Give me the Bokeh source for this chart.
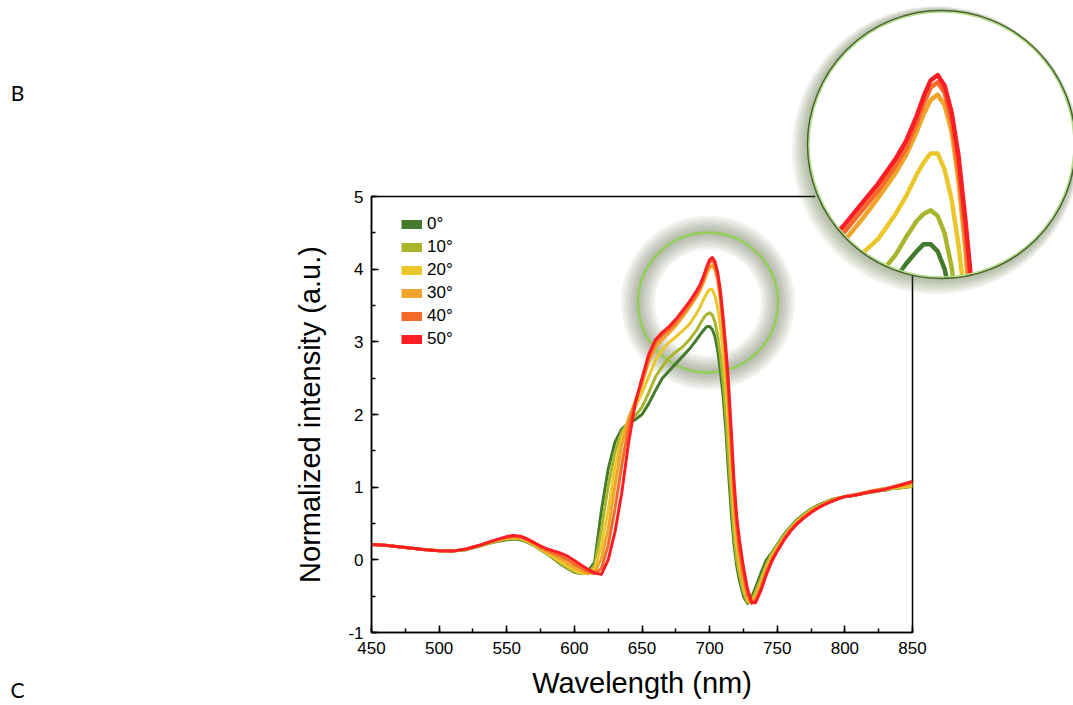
import numpy as np
from bokeh.plotting import figure
from bokeh.layouts import column
from bokeh.models import (Range1d, Label, Legend, LegendItem, SingleIntervalTicker)
from bokeh.embed import file_html
from bokeh.resources import INLINE

# ---------------- data ----------------
wavelength = [450, 460, 470, 480, 490, 500, 510, 520, 530, 540, 550,
              555, 560, 565, 570, 575, 580, 585, 590, 595, 600, 605, 610, 615, 620,
              625, 630, 635, 640, 645, 650, 655, 660, 665, 670, 675, 680, 685, 690,
              693, 696, 698, 700, 702, 704, 706, 708, 710, 712, 714, 716, 718, 720, 722,
              725, 728, 731, 734, 738, 742, 746, 750,
              755, 760, 765, 770, 775, 780, 785, 790, 795, 800, 805, 810, 815, 820,
              825, 830, 835, 840, 845, 850]

angle_labels = ["0°", "10°", "20°", "30°", "40°", "50°"]
colors = ["#437a2b", "#a9b62d", "#ebc72c", "#efa42b", "#f46a2b", "#fd1d25"]

int_0 = [0.21, 0.20, 0.18, 0.16, 0.14, 0.125, 0.12, 0.14, 0.19, 0.24, 0.275,
         0.285, 0.275, 0.245, 0.20, 0.14, 0.08, 0.01, -0.06, -0.12, -0.17, -0.19, -0.16, -0.03, 0.68,
         1.25, 1.62, 1.80, 1.88, 1.93, 2.00, 2.15, 2.33, 2.50, 2.60, 2.70, 2.80, 2.90, 3.02,
         3.10, 3.17, 3.21, 3.21, 3.17, 3.07, 2.88, 2.60, 2.25, 1.78, 1.20, 0.65, 0.22, -0.08, -0.28,
         -0.50, -0.60, -0.52, -0.38, -0.18, 0.00, 0.10, 0.21,
         0.35, 0.46, 0.56, 0.63, 0.70, 0.75, 0.79, 0.83, 0.85, 0.87, 0.88, 0.90, 0.92, 0.93,
         0.95, 0.96, 0.98, 0.99, 1.00, 1.02]

int_10 = [0.21, 0.20, 0.18, 0.16, 0.14, 0.125, 0.12, 0.14, 0.19, 0.245, 0.285,
          0.295, 0.285, 0.25, 0.20, 0.14, 0.08, 0.02, -0.05, -0.11, -0.16, -0.19, -0.18, -0.08, 0.42,
          1.02, 1.48, 1.76, 1.89, 1.98, 2.10, 2.30, 2.52, 2.66, 2.78, 2.86, 2.93, 3.03, 3.15,
          3.25, 3.34, 3.38, 3.40, 3.37, 3.27, 3.08, 2.80, 2.45, 1.98, 1.40, 0.85, 0.35, 0.00, -0.20,
          -0.45, -0.59, -0.56, -0.44, -0.25, -0.06, 0.09, 0.20,
          0.34, 0.45, 0.55, 0.62, 0.69, 0.74, 0.78, 0.82, 0.85, 0.87, 0.88, 0.90, 0.92, 0.93,
          0.95, 0.96, 0.98, 0.99, 1.00, 1.01]

int_20 = [0.21, 0.20, 0.18, 0.16, 0.14, 0.125, 0.12, 0.145, 0.195, 0.25, 0.295,
          0.305, 0.295, 0.26, 0.21, 0.15, 0.09, 0.03, -0.03, -0.09, -0.14, -0.18, -0.19, -0.12, 0.20,
          0.68, 1.28, 1.68, 1.92, 2.10, 2.30, 2.52, 2.75, 2.89, 2.99, 3.07, 3.15, 3.24, 3.38,
          3.48, 3.60, 3.67, 3.72, 3.72, 3.63, 3.46, 3.20, 2.85, 2.38, 1.82, 1.20, 0.60, 0.20, -0.08,
          -0.37, -0.55, -0.59, -0.49, -0.31, -0.11, 0.05, 0.17,
          0.31, 0.43, 0.53, 0.61, 0.68, 0.73, 0.78, 0.82, 0.85, 0.87, 0.89, 0.90, 0.92, 0.94,
          0.96, 0.97, 0.99, 1.00, 1.01, 1.02]

int_30 = [0.21, 0.20, 0.18, 0.16, 0.14, 0.125, 0.12, 0.145, 0.20, 0.255, 0.305,
          0.315, 0.305, 0.27, 0.22, 0.16, 0.11, 0.06, 0.01, -0.05, -0.10, -0.15, -0.19, -0.17, 0.02,
          0.42, 1.02, 1.58, 1.95, 2.17, 2.42, 2.72, 2.93, 3.03, 3.12, 3.22, 3.34, 3.47, 3.61,
          3.71, 3.84, 3.94, 4.02, 4.05, 3.99, 3.84, 3.56, 3.16, 2.66, 2.12, 1.46, 0.80, 0.36, 0.03,
          -0.30, -0.52, -0.60, -0.53, -0.35, -0.14, 0.02, 0.15,
          0.30, 0.42, 0.52, 0.60, 0.67, 0.73, 0.77, 0.81, 0.84, 0.87, 0.89, 0.91, 0.93, 0.95,
          0.97, 0.98, 1.00, 1.02, 1.03, 1.05]

int_40 = [0.21, 0.20, 0.18, 0.16, 0.14, 0.125, 0.12, 0.15, 0.20, 0.26, 0.31,
          0.325, 0.315, 0.28, 0.23, 0.18, 0.13, 0.09, 0.05, 0.00, -0.06, -0.11, -0.16, -0.19, -0.12,
          0.20, 0.70, 1.30, 1.82, 2.18, 2.47, 2.78, 2.99, 3.09, 3.17, 3.27, 3.39, 3.51, 3.65,
          3.75, 3.89, 4.00, 4.09, 4.12, 4.06, 3.90, 3.63, 3.25, 2.80, 2.28, 1.62, 0.95, 0.48, 0.14,
          -0.20, -0.47, -0.60, -0.56, -0.39, -0.17, 0.00, 0.13,
          0.29, 0.41, 0.51, 0.59, 0.66, 0.72, 0.77, 0.81, 0.84, 0.87, 0.89, 0.90, 0.92, 0.94,
          0.96, 0.98, 1.00, 1.03, 1.05, 1.07]

int_50 = [0.21, 0.20, 0.18, 0.16, 0.14, 0.125, 0.12, 0.15, 0.20, 0.265, 0.32,
          0.335, 0.325, 0.29, 0.24, 0.19, 0.15, 0.12, 0.09, 0.05, -0.01, -0.07, -0.13, -0.18, -0.20,
          0.00, 0.38, 0.92, 1.60, 2.15, 2.50, 2.83, 3.03, 3.13, 3.21, 3.31, 3.43, 3.55, 3.69,
          3.79, 3.93, 4.04, 4.13, 4.16, 4.10, 3.95, 3.70, 3.33, 2.92, 2.42, 1.78, 1.10, 0.60, 0.28,
          -0.10, -0.40, -0.58, -0.59, -0.42, -0.20, -0.02, 0.12,
          0.27, 0.40, 0.50, 0.58, 0.65, 0.71, 0.76, 0.80, 0.84, 0.87, 0.88, 0.90, 0.92, 0.94,
          0.95, 0.97, 1.00, 1.02, 1.05, 1.08]

series = [int_0, int_10, int_20, int_30, int_40, int_50]

x_label = "Wavelength (nm)"
y_label = "Normalized intensity (a.u.)"
panel_letter = "B"
next_panel_letter = "C"

# ---------------- layout constants (canvas = page pixels) ----------------
W, H = 1073, 705
FONT = "Liberation Sans"
FL, FT, FW, FH = 371, 196, 541, 436   # main frame


def no_align(f):
    try:
        f.frame_align = False
    except Exception:
        pass


# ---------------- main chart ----------------
p = figure(width=W, height=H, x_range=Range1d(450, 850), y_range=Range1d(-1, 5),
           output_backend="svg", toolbar_location=None, sizing_mode="fixed",
           min_border_left=FL, min_border_top=FT,
           min_border_right=W - FL - FW, min_border_bottom=H - FT - FH,
           x_axis_label=x_label, y_axis_label=y_label)
no_align(p)
p.background_fill_color = None
p.border_fill_color = None
p.outline_line_color = "black"
p.outline_line_width = 1.5
p.xgrid.grid_line_color = None
p.ygrid.grid_line_color = None
p.xaxis.ticker = SingleIntervalTicker(interval=50, num_minor_ticks=2)
p.yaxis.ticker = SingleIntervalTicker(interval=1, num_minor_ticks=2)
p.yaxis.major_label_overrides = {-1: "-1"}
for ax in (p.xaxis[0], p.yaxis[0]):
    ax.major_tick_in = 7
    ax.major_tick_out = 0
    ax.minor_tick_in = 4
    ax.minor_tick_out = 0
    ax.axis_line_width = 1.5
    ax.axis_line_color = "black"
    ax.major_tick_line_width = 1.5
    ax.minor_tick_line_width = 1.5
    ax.major_tick_line_color = "black"
    ax.minor_tick_line_color = "black"
    ax.major_label_text_font = FONT
    ax.major_label_text_font_size = "17px"
    ax.major_label_text_color = "black"
    ax.major_label_standoff = 8
    ax.axis_label_text_font = FONT
    ax.axis_label_text_font_size = "29px"
    ax.axis_label_text_font_style = "normal"
    ax.axis_label_text_color = "black"
p.xaxis.major_label_standoff = 9
p.xaxis.axis_label_standoff = 10
p.yaxis.axis_label_standoff = 19

# highlight ring around the peak (decoration)
GLOW_X, GLOW_Y, GLOW_R = 698.8, 3.54, 70
for d in [2, 4.5, 7, 9.5, 12, 14.5, 17]:
    p.annulus(x=[GLOW_X], y=[GLOW_Y], inner_radius=GLOW_R - d, outer_radius=GLOW_R + d,
              inner_radius_units="screen", outer_radius_units="screen",
              fill_color="#56633b", fill_alpha=0.08, line_color=None)
p.scatter(x=[GLOW_X], y=[GLOW_Y], size=2 * GLOW_R, marker="circle",
          fill_color=None, line_color="#92d050", line_width=2.2)

for s, c in zip(series, colors):
    p.line(wavelength, s, line_color=c, line_width=3, line_join="round")

# legend swatches: zero-length butt-capped segments on the data (invisible in the plot)
items = []
for lab, s, c in zip(angle_labels, series, colors):
    r = p.segment(x0=wavelength, y0=s, x1=wavelength, y1=s, line_color=c,
                  line_width=9, line_cap="butt")
    items.append(LegendItem(label=lab, renderers=[r]))
leg = Legend(items=items, location=(30, 283), orientation="vertical",
             glyph_width=21, glyph_height=20, label_height=20, label_standoff=5,
             spacing=3, padding=0, margin=0, border_line_color=None,
             background_fill_alpha=0, label_text_font=FONT,
             label_text_font_size="17px", label_text_color="black")
p.add_layout(leg)

# ---------------- magnified inset ----------------
IC_SX, IC_SY, IR = 941, 144, 134       # inset circle centre / radius (page px)
NM_PX, U_PX = 3.5, 178.0               # inset magnification (px per nm, px per unit)
ICX, ICY = 703.1, 3.77                 # data point at inset centre
INSET_MIN_WL, INSET_MIN_I = 668, 2.4   # part of each curve shown in the inset
L2_BOTTOM = 400                        # bottom of the inset layer frame (page px)


def to_data(sx, sy):
    return ICX + (np.asarray(sx) - IC_SX) / NM_PX, ICY - (np.asarray(sy) - IC_SY) / U_PX


def arc_px(a0, a1, r, n=40):
    th = np.deg2rad(np.linspace(a0, a1, n))
    return IC_SX + r * np.cos(th), IC_SY - r * np.sin(th)


def ring_polys(k, nlayers):
    th = np.linspace(0, 2 * np.pi, 180, endpoint=False)
    w = 10 + 8 * np.cos(th - np.deg2rad(225))
    ro = IR + w * k / nlayers
    ri = IR - 0.5
    ox, oy = to_data(IC_SX + ro * np.cos(th), IC_SY - ro * np.sin(th))
    ix, iy = to_data(IC_SX + ri * np.cos(th[::-1]), IC_SY - ri * np.sin(th[::-1]))
    return [[[list(ox), list(ix)]]], [[[list(oy), list(iy)]]]


def bare_fig(left, right, top, bottom):
    f = figure(width=W, height=H, output_backend="svg", toolbar_location=None,
               sizing_mode="fixed",
               x_axis_location=None, y_axis_location=None,
               x_range=Range1d(ICX - (IC_SX - left) / NM_PX, ICX + (right - IC_SX) / NM_PX),
               y_range=Range1d(ICY - (bottom - IC_SY) / U_PX, ICY + (IC_SY - top) / U_PX),
               min_border_left=left, min_border_right=W - right, min_border_top=top,
               min_border_bottom=H - bottom)
    no_align(f)
    f.background_fill_color = None
    f.border_fill_color = None
    f.outline_line_color = None
    f.xgrid.grid_line_color = None
    f.ygrid.grid_line_color = None
    return f


# middle layer: the magnified inset (white disc, curves, white masks below the disc)
l2 = bare_fig(807, W, 10, L2_BOTTOM)
l2.scatter(x=[ICX], y=[ICY], size=2 * IR, marker="circle", fill_color="white",
           line_color=None)
for s, c in zip(series, colors):
    pk = int(np.argmax(s))
    i0 = pk
    while i0 - 1 >= 0 and wavelength[i0 - 1] >= INSET_MIN_WL and s[i0 - 1] >= INSET_MIN_I:
        i0 -= 1
    i1 = pk
    while i1 + 1 < len(s) and s[i1 + 1] >= INSET_MIN_I:
        i1 += 1
    l2.line(wavelength[i0:i1 + 1], s[i0:i1 + 1], line_color=c, line_width=4.5,
            line_join="round")

mask_bottom = L2_BOTTOM - 2
for a0, a1 in ((200, 255), (264, 300)):
    ax_, ay_ = arc_px(a0, a1, IR + 0.3)
    px_ = list(ax_) + [ax_[-1], ax_[0]]
    py_ = list(ay_) + [mask_bottom, mask_bottom]
    mx, my = to_data(px_, py_)
    l2.patch(list(mx), list(my), fill_color="white", line_color=None)

# top layer: full-canvas frame with the inset shadow, the inset rim and the panel letters
l3 = bare_fig(0, W, 0, H)
for k in range(1, 10):
    xs, ys = ring_polys(k, 9)
    l3.multi_polygons(xs=xs, ys=ys, fill_color="#5a6b38", fill_alpha=0.06, line_color=None)
l3.scatter(x=[ICX], y=[ICY], size=2 * IR - 3, marker="circle", fill_color=None,
           line_color="#b5dc8a", line_width=1.5)
l3.scatter(x=[ICX], y=[ICY], size=2 * IR, marker="circle", fill_color=None,
           line_color="#45652a", line_width=1.5)
for txt, ypos in ((panel_letter, H - 92), (next_panel_letter, 16)):
    l3.add_layout(Label(x=17, y=ypos, x_units="screen", y_units="screen", text=txt,
                        text_font="Lato", text_font_size="21px", text_align="center",
                        text_baseline="middle", text_color="black"))

# stack the three canvases on top of each other
p.margin = (0, 0, 0, 0)
l2.margin = (-H, 0, 0, 0)
l3.margin = (-H, 0, 0, 0)
layout = column(p, l2, l3, sizing_mode="fixed", width=W, height=H, spacing=0)

with open("out.html", "w") as fh:
    fh.write(file_html(layout, INLINE))
